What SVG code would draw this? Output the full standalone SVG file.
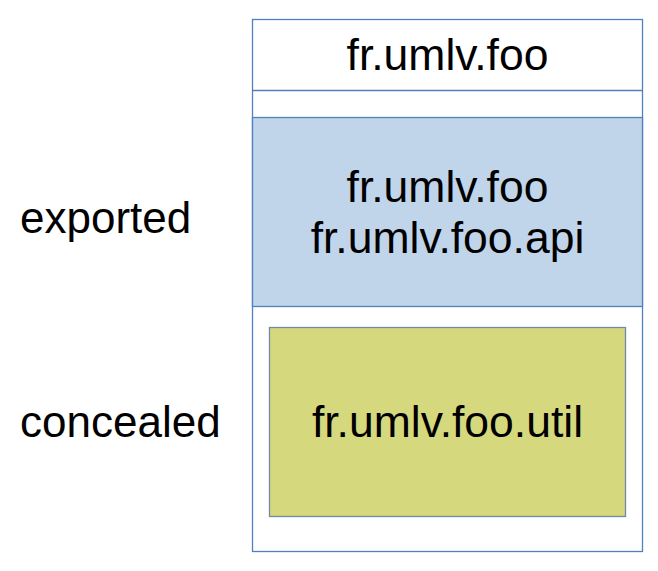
<svg xmlns="http://www.w3.org/2000/svg" width="658" height="571" viewBox="0 0 658 571">
<style>
text{font-family:"Liberation Sans",Arial,sans-serif;font-size:44.5px;fill:#000}
.c{text-anchor:middle}
.l{font-size:44px}
.box{stroke:#4f81bd;stroke-width:1.3}
</style>
<rect width="658" height="571" fill="#fff"/>
<g id="module">
<rect class="box" x="252.5" y="19.5" width="390" height="532" fill="#fff"/>
<line class="box" x1="252.5" y1="90.5" x2="642.5" y2="90.5"/>
<text class="c" x="447.5" y="70">fr.umlv.foo</text>
</g>
<g id="exported-packages">
<rect class="box" x="252.5" y="117.5" width="390" height="189" fill="#c0d4ea"/>
<text class="c" x="447.5" y="202">fr.umlv.foo</text>
<text class="c" x="447.5" y="253">fr.umlv.foo.api</text>
</g>
<g id="concealed-packages">
<rect x="269.5" y="327.5" width="356" height="189" fill="#d6d87e" stroke="#6e8aa6" stroke-width="1.3"/>
<text class="c" x="447.5" y="437">fr.umlv.foo.util</text>
</g>
<g id="labels">
<text class="l" x="20" y="233">exported</text>
<text class="l" x="20" y="437">concealed</text>
</g>
<g id="connectors"/>
</svg>
